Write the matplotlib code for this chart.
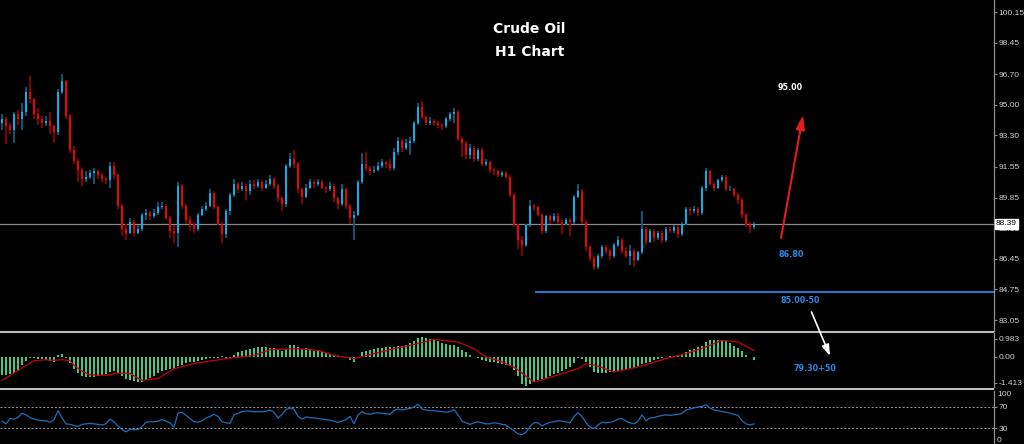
import numpy as np
import matplotlib
matplotlib.use("Agg")
import matplotlib.pyplot as plt

W, H, DPI = 1024, 444, 100

# ---- hourly crude oil bars (close / high / low); each bar opens at the prior close
first_open = 94.0
close = [
    94.2, 93.8, 93.6, 94.5, 94.2, 94.6, 95.7, 95.3, 94.5, 94.2,
    94.0, 94.1, 93.8, 93.5, 95.7, 96.3, 94.4, 92.5, 91.9, 91.4,
    90.9, 91.0, 91.2, 91.3, 91.1, 90.9, 90.8, 91.6, 91.1, 89.4,
    88.1, 87.9, 88.5, 87.9, 88.1, 88.9, 89.0, 88.8, 89.0, 89.3,
    89.4, 88.7, 88.0, 87.9, 90.5, 89.4, 88.6, 88.3, 88.1, 88.9,
    89.2, 89.4, 90.1, 89.3, 88.4, 87.8, 89.1, 90.0, 90.6, 90.3,
    90.5, 90.2, 90.6, 90.5, 90.7, 90.4, 90.6, 90.9, 90.5, 89.8,
    89.5, 91.6, 92.0, 91.7, 90.3, 89.9, 90.4, 90.7, 90.6, 90.7,
    90.4, 90.3, 90.5, 89.8, 89.5, 90.3, 89.4, 88.7, 88.9, 90.7,
    91.7, 91.5, 91.3, 91.4, 91.6, 91.8, 91.7, 91.5, 92.4, 93.0,
    92.6, 92.9, 93.0, 94.0, 94.9, 94.3, 94.0, 94.1, 94.0, 93.9,
    93.85, 94.2, 94.5, 94.6, 93.1, 92.9, 92.2, 92.6, 92.0, 92.5,
    91.7, 91.8, 91.4, 91.3, 91.1, 91.2, 91.0, 90.0, 88.3, 87.5,
    87.2, 88.3, 89.4, 89.3, 88.9, 88.0, 88.8, 88.6, 88.8, 88.5,
    88.4, 88.6, 88.5, 89.9, 90.2, 88.5, 87.1, 86.5, 86.0, 86.6,
    87.1, 86.9, 86.6, 87.2, 87.5, 86.9, 86.6, 86.9, 86.4, 86.8,
    88.1, 87.4, 88.0, 87.6, 87.9, 87.5, 88.1, 88.0, 88.2, 87.8,
    88.4, 89.2, 89.1, 89.2, 89.0, 90.4, 91.3, 90.6, 90.4, 90.8,
    91.0, 90.3, 90.35, 90.0, 89.7, 88.9, 88.4, 88.2, 88.39,
]
high = [
    94.5, 94.3, 94.0, 94.6, 94.7, 95.1, 96.0, 96.6, 95.4, 94.8,
    94.4, 94.4, 94.6, 93.9, 95.9, 96.7, 96.4, 94.5, 92.7, 92.0,
    91.5, 91.3, 91.4, 91.5, 91.4, 91.2, 91.0, 91.8, 91.8, 91.2,
    89.5, 88.4, 88.7, 88.6, 88.3, 89.0, 89.2, 89.1, 89.2, 89.6,
    89.6, 89.5, 88.8, 88.3, 90.7, 90.6, 89.5, 88.8, 88.5, 89.0,
    89.4, 89.6, 90.3, 90.2, 89.4, 88.5, 89.2, 90.1, 90.9, 90.7,
    90.7, 90.6, 90.8, 90.8, 90.9, 90.8, 90.8, 91.1, 91.0, 90.6,
    89.9, 91.7, 92.3, 92.5, 91.8, 90.4, 90.6, 90.9, 90.8, 90.9,
    90.8, 90.5, 90.7, 90.6, 89.9, 90.6, 90.4, 89.5, 89.1, 90.8,
    92.3, 92.4, 91.6, 91.6, 91.8, 92.0, 91.9, 92.0, 92.6, 93.2,
    93.1, 93.1, 93.2, 94.1, 95.1, 95.2, 94.4, 94.3, 94.2, 94.1,
    94.0, 94.3, 94.6, 94.8, 94.7, 93.2, 93.0, 92.8, 92.7, 92.6,
    92.6, 92.0, 91.9, 91.5, 91.4, 91.3, 91.3, 91.1, 90.1, 88.4,
    87.7, 88.4, 89.7, 89.5, 89.4, 89.0, 88.9, 88.9, 89.0, 89.0,
    88.6, 88.7, 88.7, 90.0, 90.6, 90.3, 88.6, 87.2, 86.6, 86.7,
    87.2, 87.2, 87.0, 87.3, 87.7, 87.6, 87.1, 87.2, 87.0, 86.9,
    89.1, 88.2, 88.1, 88.1, 88.0, 88.0, 88.2, 88.2, 88.3, 88.3,
    88.5, 89.3, 89.3, 89.4, 89.3, 90.5, 91.5, 91.4, 90.7, 90.9,
    91.1, 91.1, 90.5, 90.4, 90.1, 89.8, 89.0, 88.5, 88.5,
]
low = [
    93.6, 92.8, 93.4, 92.9, 93.9, 93.6, 94.4, 95.1, 94.2, 93.9,
    93.7, 93.8, 93.4, 92.9, 93.3, 95.6, 94.2, 92.3, 91.7, 90.7,
    90.5, 90.7, 90.9, 90.6, 90.9, 90.7, 90.6, 90.4, 90.9, 89.2,
    87.7, 87.5, 87.8, 87.7, 87.8, 88.0, 88.6, 88.6, 88.7, 88.9,
    89.2, 88.6, 87.6, 87.3, 87.1, 89.2, 88.4, 88.0, 87.9, 88.0,
    88.8, 89.1, 89.3, 89.2, 88.3, 87.3, 87.6, 88.9, 89.9, 90.1,
    90.2, 89.7, 90.0, 90.3, 90.4, 90.2, 90.3, 90.5, 90.3, 89.6,
    89.1, 89.3, 91.5, 91.5, 90.1, 89.5, 89.8, 90.3, 90.4, 90.5,
    90.3, 90.1, 90.2, 89.6, 89.2, 89.4, 89.2, 88.4, 87.5, 88.8,
    90.6, 91.3, 91.1, 91.2, 91.3, 91.5, 91.5, 91.3, 91.4, 92.2,
    92.4, 92.5, 92.2, 92.9, 93.9, 94.2, 93.9, 93.9, 93.8, 93.7,
    93.6, 93.7, 94.1, 94.0, 93.0, 92.1, 92.0, 92.0, 91.8, 91.9,
    91.6, 91.6, 91.2, 91.1, 91.0, 91.0, 90.9, 89.9, 88.2, 87.0,
    86.6, 87.1, 88.2, 89.1, 88.8, 87.8, 87.9, 88.4, 88.5, 88.4,
    87.8, 88.3, 87.7, 88.4, 89.8, 88.4, 86.9, 86.3, 85.8, 85.9,
    86.5, 86.7, 86.4, 86.5, 87.1, 86.7, 86.5, 86.1, 86.0, 86.3,
    86.7, 87.2, 87.3, 87.4, 87.5, 87.3, 87.4, 87.9, 87.9, 87.6,
    87.7, 88.3, 88.9, 89.0, 88.8, 88.9, 90.2, 90.5, 90.2, 90.3,
    90.7, 90.2, 90.2, 89.9, 89.5, 88.7, 88.2, 87.9, 88.1,
]

# ---- MACD main (histogram) per bar, and its signal line at selected bars
macd_main = [
    -1.00, -0.98, -0.92, -0.85, -0.75, -0.45, -0.20, -0.08, -0.05, -0.10,
    -0.12, -0.15, -0.22, -0.30, 0.10, 0.15, -0.05, -0.35, -0.65, -0.90,
    -1.05, -1.10, -1.10, -1.08, -1.05, -1.00, -0.95, -0.80, -0.78, -0.85,
    -1.05, -1.20, -1.25, -1.32, -1.37, -1.35, -1.25, -1.15, -1.05, -0.90,
    -0.75, -0.70, -0.68, -0.65, -0.50, -0.42, -0.35, -0.30, -0.28, -0.22,
    -0.18, -0.12, -0.05, -0.08, -0.05, 0.05, -0.03, -0.08, 0.10, 0.25,
    0.32, 0.40, 0.45, 0.50, 0.52, 0.53, 0.52, 0.50, 0.48, 0.40,
    0.30, 0.45, 0.68, 0.65, 0.52, 0.45, 0.48, 0.45, 0.35, 0.30,
    0.25, 0.20, 0.15, 0.10, 0.05, 0.02, -0.05, -0.15, -0.30, -0.05,
    0.25, 0.35, 0.40, 0.45, 0.48, 0.50, 0.52, 0.52, 0.55, 0.60,
    0.62, 0.68, 0.75, 0.88, 1.05, 1.10, 1.05, 0.98, 0.92, 0.85,
    0.78, 0.72, 0.68, 0.65, 0.55, 0.40, 0.25, 0.12, 0.00, -0.08,
    -0.15, -0.20, -0.25, -0.30, -0.35, -0.38, -0.42, -0.48, -0.70, -1.05,
    -1.45, -1.60, -1.50, -1.35, -1.28, -1.22, -1.15, -1.05, -0.95, -0.85,
    -0.78, -0.65, -0.55, -0.35, -0.05, -0.10, -0.30, -0.55, -0.80, -0.90,
    -0.88, -0.85, -0.82, -0.80, -0.75, -0.72, -0.68, -0.62, -0.58, -0.52,
    -0.40, -0.32, -0.25, -0.18, -0.10, -0.05, 0.02, 0.05, 0.08, 0.12,
    0.18, 0.28, 0.38, 0.45, 0.55, 0.62, 0.80, 0.92, 0.95, 0.95,
    0.92, 0.85, 0.75, 0.62, 0.48, 0.30, 0.12, 0.02, -0.15,
]
signal_bar = [0, 8, 11, 13, 15, 17, 18, 20, 22, 26, 29, 32, 35, 39, 43, 48,
              56, 63, 67, 74, 79, 83, 88, 93, 98, 104, 108, 114, 118, 121,
              124, 128, 133, 136, 144, 146, 149, 153, 157, 161, 166, 171,
              176, 180, 184, 188]
signal_val = [-1.28, -0.20, -0.15, -0.18, -0.15, -0.20, -0.45, -0.78, -0.98,
              -1.00, -0.88, -0.90, -1.28, -1.18, -0.64, -0.36, -0.09, 0.09,
              0.40, 0.45, 0.36, 0.09, -0.09, 0.18, 0.45, 0.73, 0.96, 0.82,
              0.45, 0.00, -0.18, -0.55, -1.37, -1.18, -0.64, -0.36, -0.50,
              -0.82, -0.64, -0.42, -0.09, 0.18, 0.55, 0.91, 0.82, 0.36]

# ---- RSI per bar
rsi = [
    43, 38, 48, 47, 50, 58, 55, 50, 47, 45,
    44, 44, 41, 46, 63, 49, 38, 37, 35, 33,
    37, 38, 39, 38, 37, 36, 38, 47, 42, 34,
    27, 23, 28, 27, 27, 33, 41, 42, 42, 43,
    46, 43, 40, 32, 58, 60, 54, 48, 42, 41,
    44, 49, 52, 56, 52, 42, 40, 39, 55, 58,
    61, 62, 62, 61, 61, 61, 62, 64, 60, 49,
    56, 65, 68, 66, 52, 47, 51, 50, 49, 48,
    47, 46, 45, 43, 41, 43, 46, 52, 38, 55,
    61, 57, 56, 58, 59, 58, 57, 56, 63, 66,
    64, 66, 67, 70, 75, 66, 64, 63, 63, 62,
    61, 60, 61, 65, 55, 43, 40, 37, 40, 42,
    40, 38, 38, 40, 39, 37, 36, 30, 25, 19,
    18, 22, 33, 40, 40, 34, 38, 41, 42, 44,
    43, 42, 40, 52, 59, 52, 40, 32, 29, 36,
    41, 40, 41, 43, 47, 48, 43, 40, 38, 43,
    55, 44, 49, 50, 52, 54, 55, 54, 55, 56,
    58, 64, 66, 68, 70, 71, 74, 68, 64, 63,
    61, 60, 58, 56, 54, 44, 38, 36, 38,
]

# ---- scale labels and levels
price_ticks = [100.15, 98.45, 96.70, 95.00, 93.30, 91.55, 89.85, 88.15, 86.45, 84.75, 83.05]
macd_ticks = [0.983, 0.00, -1.413]
macd_tick_labels = ["0.983", "0.00", "-1.413"]
rsi_levels = [70, 30]
last_price = 88.39
support_level = 84.58
support_from_bar = 133.2

# ---- styling
BG = "black"
UP, DN = "#08b0f0", "#f20000"
UP_WICK, DN_WICK = "#0a5f80", "#900000"
HIST = "#45c882"
SIG = "#cc0000"
RSI_C = "#1f6db8"
AXIS_C = "#8f8f8f"
LABEL_C = "#d2d2d2"
NOTE_BLUE = "#2a8ae6"
SCALE_FONT = "Liberation Sans"
FS = 6.0

fig = plt.figure(figsize=(W / DPI, H / DPI), dpi=DPI, facecolor=BG)


def px_rect(x0, y0, x1, y1):
    return [x0 / W, 1 - y1 / H, (x1 - x0) / W, (y1 - y0) / H]


def style_axis(ax):
    ax.set_facecolor(BG)
    ax.patch.set_visible(False)
    for s in ("top", "left", "bottom"):
        ax.spines[s].set_visible(False)
    ax.spines["right"].set_color(AXIS_C)
    ax.spines["right"].set_linewidth(0.9)
    ax.yaxis.tick_right()
    ax.set_xticks([])
    ax.tick_params(axis="y", color=AXIS_C, labelcolor=LABEL_C, labelsize=FS,
                   length=2.2, width=0.8, pad=1.0)
    ax.set_xlim(-0.5, 248)


def scale_labels(ax):
    for lab in ax.get_yticklabels():
        lab.set_family(SCALE_FONT)


n = len(close)
x = np.arange(n)
c = np.array(close)
o = np.array([first_open] + close[:-1])
hi = np.array(high)
lo = np.array(low)
up = c >= o

# price panel
ax = fig.add_axes(px_rect(0, 0, 994, 331))
style_axis(ax)
ax.set_ylim(82.44, 100.82)
ax.set_yticks(price_ticks, labels=[f"{v:.2f}" for v in price_ticks])
scale_labels(ax)
ax.axhline(last_price, color="#8a8a8a", lw=0.9, zorder=1)
ax.hlines(support_level, support_from_bar, 248, color="#2574c8", lw=1.5, zorder=1)
ax.vlines(x[up], lo[up], hi[up], color=UP_WICK, lw=1.3, zorder=2)
ax.vlines(x[~up], lo[~up], hi[~up], color=DN_WICK, lw=1.3, zorder=2)
body = np.where(np.abs(c - o) < 0.04, np.where(up, 0.04, -0.04), c - o)
ax.bar(x, body, bottom=o, width=0.72, color=np.where(up, UP, DN),
       linewidth=0, zorder=3)
ax.text(1 + 2.0 / 994, last_price, f"{last_price:.2f}", transform=ax.get_yaxis_transform(),
        ha="left", va="center", fontsize=FS, family=SCALE_FONT, color="black",
        clip_on=False, zorder=10,
        bbox=dict(boxstyle="square,pad=0.15", fc="white", ec="white"))

# MACD panel
am = fig.add_axes(px_rect(0, 333, 994, 387))
style_axis(am)
am.set_ylim(-1.64, 1.31)
am.set_yticks(macd_ticks, labels=macd_tick_labels)
scale_labels(am)
am.bar(x, macd_main, width=0.62, color=HIST, linewidth=0)
am.plot(signal_bar, signal_val, color=SIG, lw=0.9)

# RSI panel
ar = fig.add_axes(px_rect(0, 391, 994, 444))
style_axis(ar)
ar.set_ylim(0, 100)
ar.set_yticks(rsi_levels, labels=[str(v) for v in rsi_levels])
scale_labels(ar)
for lvl in rsi_levels:
    ar.axhline(lvl, color="#9a9a9a", lw=0.7, ls=(0, (2, 2)))
ar.plot(x, rsi, color=RSI_C, lw=0.9)
ar.text(1 + 3 / 994, 100, "100", transform=ar.get_yaxis_transform(), ha="left",
        va="top", fontsize=FS, family=SCALE_FONT, color=LABEL_C, clip_on=False)
ar.text(1 + 3 / 994, 0, "0", transform=ar.get_yaxis_transform(), ha="left",
        va="bottom", fontsize=FS, family=SCALE_FONT, color=LABEL_C, clip_on=False)

# overlay in pixel units: panel separators, title and trade notes
ov = fig.add_axes([0, 0, 1, 1])
ov.set_xlim(0, W)
ov.set_ylim(H, 0)
ov.axis("off")
ov.patch.set_visible(False)
for ysep in (332, 389):
    ov.plot([0, 994], [ysep, ysep], color="#bdbdbd", lw=1.5, solid_capstyle="butt")

ov.text(529, 29, "Crude Oil", ha="center", va="center", color="white",
        fontsize=10, fontweight="bold")
ov.text(530, 51.5, "H1 Chart", ha="center", va="center", color="white",
        fontsize=10, fontweight="bold")

ov.text(790, 88, "95.00", ha="center", va="center", color="white", fontsize=5.8, fontweight="bold")
ov.text(791, 254, "86.80", ha="center", va="center", color=NOTE_BLUE, fontsize=5.8, fontweight="bold")
ov.text(800, 300, "85.00-50", ha="center", va="center", color=NOTE_BLUE, fontsize=5.8, fontweight="bold")
ov.text(815, 368.5, "79.30+50", ha="center", va="center", color=NOTE_BLUE, fontsize=5.8, fontweight="bold")

ov.annotate("", xy=(803, 115), xytext=(781, 238),
            arrowprops=dict(arrowstyle="-|>,head_length=0.7,head_width=0.22",
                            color="#e31b1b", lw=1.5, shrinkA=0, shrinkB=0,
                            mutation_scale=12))
ov.annotate("", xy=(830, 356), xytext=(811.5, 312),
            arrowprops=dict(arrowstyle="-|>,head_length=0.6,head_width=0.2",
                            color="white", lw=1.2, shrinkA=0, shrinkB=0,
                            mutation_scale=11))

fig.savefig("out.png", dpi=DPI, facecolor=BG)
